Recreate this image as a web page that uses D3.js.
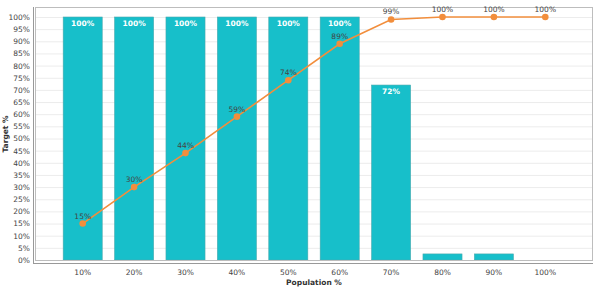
<!DOCTYPE html>
<html>
<head>
<meta charset="utf-8">
<script src="https://cdn.jsdelivr.net/npm/d3@7"></script>
<style>
  body { margin: 0; background: #fff; }
  svg { display: block; font-family: "DejaVu Sans", sans-serif; }
</style>
</head>
<body>
<div id="chart"></div>
<script>
// data
var categories = ["10%", "20%", "30%", "40%", "50%", "60%", "70%", "80%", "90%", "100%"];
var barValues = [100, 100, 100, 100, 100, 100, 72, 2.5, 2.5, 0];
var lineValues = [15, 30, 44, 59, 74, 89, 99, 100, 100, 100];
var yTicks = d3.range(0, 101, 5);

var width = 595, height = 288;
var plot = { left: 35, top: 7, right: 593, bottom: 261 };

var x = d3.scaleBand()
    .domain(categories)
    .range([57, 571])
    .paddingInner(0.24)
    .paddingOuter(0.12);

var y = d3.scaleLinear()
    .domain([0, 100])
    .range([260, 17]);

var svg = d3.select("#chart").append("svg")
    .attr("width", width)
    .attr("height", height);

// grid
svg.append("g").selectAll("line")
    .data(yTicks)
    .enter().append("line")
    .attr("x1", plot.left).attr("x2", plot.right)
    .attr("y1", function(d) { return y(d) + 0.5; })
    .attr("y2", function(d) { return y(d) + 0.5; })
    .attr("stroke", "#ececec")
    .attr("stroke-width", 1);

// bars
svg.append("g").selectAll("rect")
    .data(barValues)
    .enter().append("rect")
    .attr("x", function(d, i) { return x(categories[i]); })
    .attr("y", function(d) { return y(d); })
    .attr("width", x.bandwidth())
    .attr("height", function(d) { return y(0) - y(d); })
    .attr("fill", "#17bfca")
    .attr("stroke", "#4aa9ae")
    .attr("stroke-width", 0.6)
    .style("display", function(d) { return d > 0 ? null : "none"; });

// bar labels
svg.append("g").selectAll("text")
    .data(barValues)
    .enter().filter(function(d) { return d > 10; })
    .append("text")
    .attr("x", function(d, i) { return x(categories[i]) + x.bandwidth() / 2; })
    .attr("y", function(d) { return y(d) + 9; })
    .attr("text-anchor", "middle")
    .attr("fill", "#fff")
    .attr("font-size", "7.5px")
    .attr("font-weight", 600)
    .text(function(d) { return d + "%"; });

// frame
svg.append("rect")
    .attr("x", plot.left + 0.5).attr("y", plot.top + 0.5)
    .attr("width", plot.right - plot.left - 1).attr("height", plot.bottom - plot.top - 1)
    .attr("fill", "none")
    .attr("stroke", "#bdbdbd");

// line
var cx = function(i) { return x(categories[i]) + x.bandwidth() / 2; };
var line = d3.line()
    .x(function(d, i) { return cx(i); })
    .y(function(d) { return y(d); });

svg.append("path")
    .datum(lineValues)
    .attr("d", line)
    .attr("fill", "none")
    .attr("stroke", "#f28e3c")
    .attr("stroke-width", 1.6);

svg.append("g").selectAll("circle")
    .data(lineValues)
    .enter().append("circle")
    .attr("cx", function(d, i) { return cx(i); })
    .attr("cy", function(d) { return y(d); })
    .attr("r", 3.3)
    .attr("fill", "#f28e3c");

svg.append("g").selectAll("text")
    .data(lineValues)
    .enter().append("text")
    .attr("x", function(d, i) { return cx(i); })
    .attr("y", function(d) { return y(d) - 5; })
    .attr("text-anchor", "middle")
    .attr("fill", "#444")
    .attr("font-size", "7.5px")
    .text(function(d) { return d + "%"; });

// axes
var yAxis = d3.axisLeft(y)
    .tickValues(yTicks)
    .tickSize(0)
    .tickPadding(3)
    .tickFormat(function(d) { return d + "%"; });

var gy = svg.append("g")
    .attr("transform", "translate(" + (plot.left - 2) + ",0)")
    .call(yAxis);
gy.select(".domain").attr("stroke", "#999").attr("d", "M0.5," + plot.top + "V" + (plot.bottom + 2));

var xAxis = d3.axisBottom(x).tickSize(0).tickPadding(7);
var gx = svg.append("g")
    .attr("transform", "translate(0," + (plot.bottom + 2) + ")")
    .call(xAxis);
gx.select(".domain").attr("stroke", "#999").attr("d", "M" + (plot.left - 2) + ",0.5H" + plot.right);

svg.selectAll(".tick text")
    .attr("fill", "#444")
    .attr("font-size", "7.5px")
    .attr("font-family", "DejaVu Sans, sans-serif");

// axis titles
svg.append("text")
    .attr("transform", "translate(8," + ((plot.top + plot.bottom) / 2) + ") rotate(-90)")
    .attr("text-anchor", "middle")
    .attr("fill", "#333")
    .attr("font-size", "7.5px")
    .attr("font-weight", "bold")
    .text("Target %");

svg.append("text")
    .attr("x", (plot.left + plot.right) / 2)
    .attr("y", 285)
    .attr("text-anchor", "middle")
    .attr("fill", "#333")
    .attr("font-size", "7.5px")
    .attr("font-weight", "bold")
    .text("Population %");
</script>
</body>
</html>
